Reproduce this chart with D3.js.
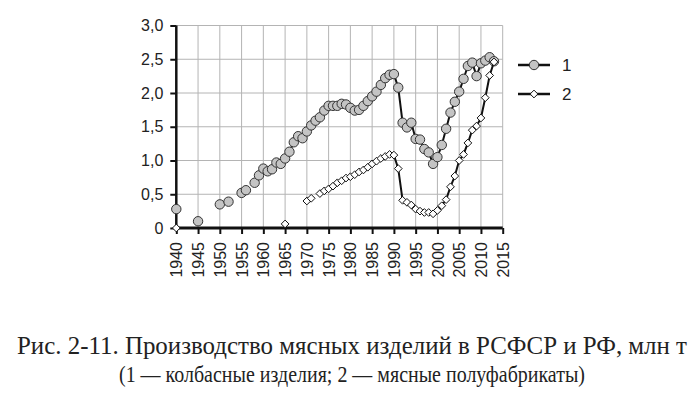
<!DOCTYPE html>
<html>
<head>
<meta charset="utf-8">
<script src="https://cdn.jsdelivr.net/npm/d3@7"></script>
<style>
  body { margin: 0; background: #fff; }
  svg { display: block; }
</style>
</head>
<body>
<div id="chart"></div>
<script>
// sausage products (1) and meat semi-finished products (2), mln t
const years1 = [1940,1945,1950,1952,1955,1956,1958,1959,1960,1961,1962,1963,1964,1965,1966,1967,1968,1969,
  1970,1971,1972,1973,1974,1975,1976,1977,1978,1979,1980,1981,1982,1983,1984,1985,1986,1987,1988,1989,
  1990,1991,1992,1993,1994,1995,1996,1997,1998,1999,2000,2001,2002,2003,2004,2005,2006,2007,2008,2009,
  2010,2011,2012,2013];
const values1 = [0.28,0.10,0.35,0.39,0.52,0.56,0.67,0.78,0.88,0.84,0.87,0.97,0.95,1.03,1.13,1.27,1.36,1.33,
  1.43,1.52,1.59,1.64,1.74,1.81,1.81,1.81,1.84,1.83,1.78,1.74,1.75,1.81,1.88,1.95,2.02,2.12,2.22,2.27,
  2.28,2.08,1.56,1.49,1.56,1.32,1.31,1.17,1.12,0.95,1.05,1.23,1.47,1.71,1.87,2.02,2.21,2.40,2.45,2.25,
  2.44,2.48,2.53,2.47];

const years2 = [1940,1965,1970,1971,1973,1974,1975,1976,1977,1978,1979,1980,1981,1982,1983,1984,1985,1986,
  1987,1988,1989,1990,1991,1992,1993,1994,1995,1996,1997,1998,1999,2000,2001,2002,2003,2004,2005,2006,
  2007,2008,2009,2010,2011,2012,2013];
const values2 = [0,0.06,0.40,0.44,0.51,0.55,0.58,0.62,0.67,0.70,0.74,0.76,0.79,0.83,0.86,0.90,0.95,0.99,
  1.03,1.06,1.09,1.08,0.88,0.41,0.38,0.34,0.28,0.25,0.23,0.23,0.21,0.26,0.33,0.42,0.61,0.77,1.00,1.09,
  1.26,1.45,1.51,1.63,1.93,2.26,2.46];

const xTicks = d3.range(1940, 2016, 5);
const yTicks = [0,0.5,1,1.5,2,2.5,3];
const legendLabels = ['1', '2'];
const captionLines = [
  'Рис. 2-11. Производство мясных изделий в РСФСР и РФ, млн т',
  '(1 — колбасные изделия; 2 — мясные полуфабрикаты)'
];
const captionWidths = [670, 466];
const captionSizes = [25, 23.5];

const W = 700, H = 398;
const svg = d3.select('#chart').append('svg').attr('width', W).attr('height', H);

const x = d3.scaleLinear().domain([1940, 2015]).range([176.3, 502.7]);
const y = d3.scaleLinear().domain([0, 3]).range([228, 25.5]);

const fmt = v => v === 0 ? '0' : d3.format('.1f')(v).replace('.', ',');

// grid
const grid = svg.append('g').attr('stroke', '#b4b4b4').attr('stroke-width', 1);
grid.selectAll('.gx').data(xTicks.slice(1)).join('line')
  .attr('x1', d => x(d)).attr('x2', d => x(d))
  .attr('y1', y(0)).attr('y2', y(3));
grid.selectAll('.gy').data(yTicks.slice(1)).join('line')
  .attr('x1', x(1940)).attr('x2', x(2015))
  .attr('y1', d => y(d)).attr('y2', d => y(d));

// axes
const yAxis = svg.append('g').attr('transform', `translate(${x(1940)},0)`)
  .call(d3.axisLeft(y).tickValues(yTicks).tickFormat(fmt).tickSize(6).tickPadding(7));
yAxis.select('.domain').attr('stroke', '#111').attr('stroke-width', 2.5).attr('d', `M0,${y(3)}V${y(0)}`);
yAxis.selectAll('.tick line').attr('stroke', '#111').attr('stroke-width', 2);

const xAxis = svg.append('g').attr('transform', `translate(0,${y(0)})`)
  .call(d3.axisBottom(x).tickValues(xTicks).tickFormat(d3.format('d')).tickSize(6));
xAxis.select('.domain').attr('stroke', '#111').attr('stroke-width', 3).attr('d', `M${x(1940)},0H${x(2015)}`);
xAxis.selectAll('.tick line').attr('stroke', '#111').attr('stroke-width', 2);
xAxis.selectAll('.tick text')
  .attr('transform', 'rotate(-90)')
  .attr('x', -14).attr('y', 0).attr('dy', '0.35em')
  .attr('text-anchor', 'end');

svg.selectAll('.tick text')
  .attr('font-family', '"Liberation Sans", Arial, sans-serif')
  .attr('font-size', 16).attr('fill', '#222');

// series: a line joins only consecutive years
const line = d3.line().x(d => x(d[0])).y(d => y(d[1]));

function segments(yrs, vals) {
  const segs = [];
  let cur = [];
  yrs.forEach((yr, i) => {
    if (i > 0 && yr - yrs[i - 1] > 1) { segs.push(cur); cur = []; }
    cur.push([yr, vals[i]]);
  });
  segs.push(cur);
  return segs.filter(s => s.length > 1);
}

const s1 = svg.append('g');
s1.selectAll('path').data(segments(years1, values1)).join('path')
  .attr('d', line).attr('fill', 'none').attr('stroke', '#111').attr('stroke-width', 2);
s1.selectAll('circle').data(years1.map((yr, i) => [yr, values1[i]])).join('circle')
  .attr('cx', d => x(d[0])).attr('cy', d => y(d[1])).attr('r', 4.7)
  .attr('fill', '#c4c4c4').attr('stroke', '#333').attr('stroke-width', 1);

const diamond = d3.symbol().type(d3.symbolDiamond2).size(38);
const s2 = svg.append('g');
s2.selectAll('path.ln').data(segments(years2, values2)).join('path')
  .attr('class', 'ln')
  .attr('d', line).attr('fill', 'none').attr('stroke', '#111').attr('stroke-width', 2);
s2.selectAll('path.mk').data(years2.map((yr, i) => [yr, values2[i]])).join('path')
  .attr('class', 'mk')
  .attr('d', diamond)
  .attr('transform', d => `translate(${x(d[0])},${y(d[1])})`)
  .attr('fill', '#fff').attr('stroke', '#111').attr('stroke-width', 1);

// legend
const legend = svg.append('g').selectAll('g').data(legendLabels).join('g')
  .attr('transform', (d, i) => `translate(518,${65 + i * 29})`);
legend.append('line').attr('x1', 0).attr('x2', 32).attr('stroke', '#111').attr('stroke-width', 2.5);
legend.filter((d, i) => i === 0).append('circle')
  .attr('cx', 16).attr('r', 4.7).attr('fill', '#c4c4c4').attr('stroke', '#333');
legend.filter((d, i) => i === 1).append('path')
  .attr('d', diamond).attr('transform', 'translate(16,0)')
  .attr('fill', '#fff').attr('stroke', '#111');
legend.append('text').attr('x', 44).attr('dy', '0.36em')
  .attr('font-family', '"Liberation Sans", Arial, sans-serif')
  .attr('font-size', 17).attr('fill', '#222').text(d => d);

// caption
svg.append('g').selectAll('text').data(captionLines).join('text')
  .attr('x', 352).attr('y', (d, i) => 354 + i * 28)
  .attr('text-anchor', 'middle')
  .attr('textLength', (d, i) => captionWidths[i])
  .attr('lengthAdjust', 'spacingAndGlyphs')
  .attr('font-family', '"Liberation Serif", "Times New Roman", serif')
  .attr('font-size', (d, i) => captionSizes[i]).attr('fill', '#222')
  .text(d => d);
</script>
</body>
</html>
